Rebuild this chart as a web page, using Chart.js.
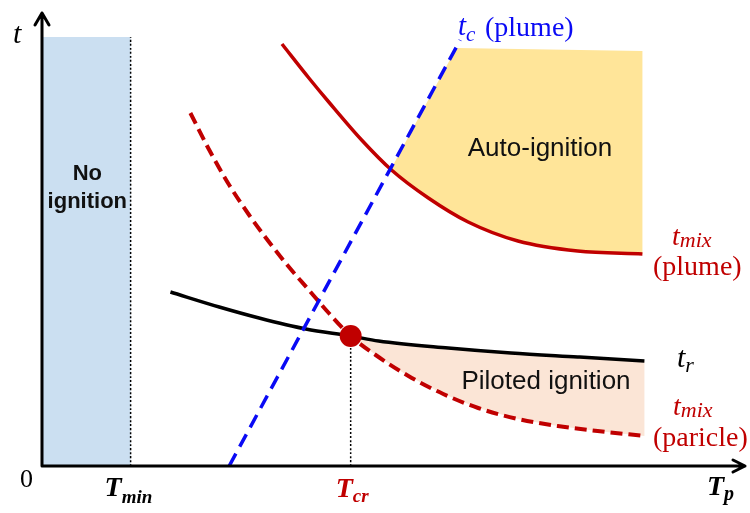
<!DOCTYPE html>
<html>
<head>
<meta charset="utf-8">
<script src="https://cdn.jsdelivr.net/npm/chart.js@4.4.1/dist/chart.umd.min.js"></script>
<style>
  html, body { margin: 0; padding: 0; background: #fff; }
  #wrap { width: 750px; height: 513px; }
</style>
</head>
<body>
<div id="wrap"><canvas id="chart" width="750" height="513"></canvas></div>
<script>
// schematic units: Tp across, t up (arbitrary)
const tmixPlumeTp = [241, 268, 288, 321, 351, 388, 428, 478, 538, 603];
const tmixPlumeT  = [422, 388, 364, 326, 296, 268, 244, 225, 215, 212];

const tmixPartTp = [149, 168, 188, 208, 228, 248, 268, 288, 310, 338, 368, 403, 438, 478, 518, 558, 605];
const tmixPartT  = [353, 316, 281, 251, 224, 199, 176, 153, 130, 109, 90, 72, 58, 47, 40, 35, 30];

const trTp = [129, 178, 218, 265, 310, 338, 408, 471, 538, 605];
const trT  = [174, 159, 148, 137, 130, 125, 118, 113, 109, 105];

const tcTp = [188, 420];
const tcT  = [0, 426];

const Tmin = 89;
const Tcr = 310;
const tcrPoint = 130;
const noIgnTop = 429;

// upper-left corners of the auto-ignition zone (on t_c), then top-right
const autoEdgeTp = [350, 416, 603];
const autoEdgeT  = [296, 418, 415];

const pts = (xs, ys) => xs.map((x, i) => ({ x: x, y: ys[i] }));

// auto-ignition polygon: along t_c and the top, then back along t_mix (plume)
const autoPoly = pts(autoEdgeTp, autoEdgeT).concat(
  pts(tmixPlumeTp, tmixPlumeT).filter(p => p.x >= 351).reverse()
);
// piloted polygon: along t_r, then back along t_mix (particle)
const pilotPoly = pts(trTp, trT).filter(p => p.x >= Tcr).concat(
  pts(tmixPartTp, tmixPartT).filter(p => p.x >= Tcr).reverse()
);
const noIgnPoly = pts([0, 0, Tmin, Tmin], [0, noIgnTop, noIgnTop, 0]);

const RED = '#C00000';
const BLUE = '#0A0AF5';

function serif(style, size) { return style + ' ' + size + 'px "Liberation Serif", serif'; }
function sans(style, size) { return style + ' ' + size + 'px "Liberation Sans", Arial, sans-serif'; }

// main text + subscript
function subText(ctx, main, sub, x, y, mainFont, subFont, color, dy) {
  ctx.fillStyle = color;
  ctx.font = mainFont;
  ctx.textAlign = 'left';
  ctx.textBaseline = 'alphabetic';
  ctx.fillText(main, x, y);
  const w = ctx.measureText(main).width;
  ctx.font = subFont;
  ctx.fillText(sub, x + w, y + dy);
}

const decorations = {
  id: 'decorations',
  afterDatasetsDraw(chart) {
    const ctx = chart.ctx;
    const xs = chart.scales.x, ys = chart.scales.y;
    const x0 = xs.getPixelForValue(0), y0 = ys.getPixelForValue(0);
    ctx.save();
    // axes with open arrow heads
    ctx.strokeStyle = '#000';
    ctx.lineWidth = 3;
    ctx.lineCap = 'round';
    ctx.lineJoin = 'round';
    ctx.beginPath();
    ctx.moveTo(x0, y0); ctx.lineTo(x0, 13);
    ctx.moveTo(x0 - 7, 25); ctx.lineTo(x0, 13); ctx.lineTo(x0 + 7, 25);
    ctx.moveTo(x0, y0); ctx.lineTo(745, y0);
    ctx.moveTo(733, y0 - 6); ctx.lineTo(745, y0); ctx.lineTo(733, y0 + 6);
    ctx.stroke();

    // region labels
    ctx.fillStyle = '#111';
    ctx.textAlign = 'center';
    ctx.font = sans('bold', 22);
    const midNo = xs.getPixelForValue(Tmin / 2) + 1;
    ctx.fillText('No', midNo, 180);
    ctx.fillText('ignition', midNo, 208);
    ctx.font = sans('', 26);
    ctx.fillText('Auto-ignition', 540, 156);
    ctx.fillText('Piloted ignition', 546, 389);

    // axis labels
    ctx.fillStyle = '#000';
    ctx.textAlign = 'left';
    ctx.font = serif('italic', 30);
    ctx.fillText('t', 13, 43);
    ctx.font = serif('', 26);
    ctx.fillText('0', 20, 487);
    const txMin = xs.getPixelForValue(Tmin);
    subText(ctx, 'T', 'min', txMin - 26, 496, serif('italic bold', 28), serif('italic bold', 19), '#000', 7);
    const txCr = xs.getPixelForValue(Tcr);
    subText(ctx, 'T', 'cr', txCr - 15, 497, serif('italic bold', 28), serif('italic bold', 19), RED, 5);
    subText(ctx, 'T', 'p', 707, 495, serif('italic bold', 28), serif('italic bold', 20), '#000', 5);

    // curve labels
    subText(ctx, 't', 'c', 458, 35, serif('italic', 29), serif('italic', 21), BLUE, 6);
    ctx.font = serif('', 28);
    ctx.fillText('(plume)', 485, 36);

    subText(ctx, 't', 'mix', 672, 245, serif('italic', 28), serif('italic', 22), RED, 2);
    ctx.fillStyle = RED;
    ctx.font = serif('', 28);
    ctx.fillText('(plume)', 653, 275);

    subText(ctx, 't', 'r', 677, 367, serif('italic', 30), serif('italic', 22), '#000', 5);

    subText(ctx, 't', 'mix', 673, 415, serif('italic', 28), serif('italic', 22), RED, 2);
    ctx.fillStyle = RED;
    ctx.font = serif('', 28);
    ctx.fillText('(paricle)', 653, 446);
    ctx.restore();
  }
};

const region = (data, color) => ({
  data: data, showLine: true, fill: 'shape', backgroundColor: color,
  borderWidth: 0, pointRadius: 0, tension: 0, order: 10
});
const curve = (xs, ys, color, width, dash, order) => ({
  data: pts(xs, ys), showLine: true, fill: false, borderColor: color,
  borderWidth: width, borderDash: dash, pointRadius: 0,
  cubicInterpolationMode: 'monotone', order: order
});

new Chart(document.getElementById('chart'), {
  type: 'scatter',
  data: {
    datasets: [
      region(noIgnPoly, '#CBDFF1'),
      region(autoPoly, '#FFE599'),
      region(pilotPoly, '#FBE5D6'),
      curve([Tmin, Tmin], [0, noIgnTop], '#000', 1.5, [2, 2], 5),
      curve([Tcr, Tcr], [0, tcrPoint], '#000', 1.5, [2, 2], 5),
      curve(trTp, trT, '#000', 3.5, [], 3),
      curve(tmixPlumeTp, tmixPlumeT, RED, 3.5, [], 3),
      curve(tmixPartTp, tmixPartT, RED, 4, [12, 6], 2),
      curve(tcTp, tcT, BLUE, 3.5, [14, 8], 1),
      {
        data: [{ x: Tcr, y: tcrPoint }], pointRadius: 11, pointBackgroundColor: RED,
        pointBorderWidth: 0, order: 0
      }
    ]
  },
  options: {
    responsive: false,
    animation: false,
    layout: { padding: { left: 42, top: 14, right: 8, bottom: 47 } },
    plugins: { legend: { display: false }, tooltip: { enabled: false } },
    scales: {
      x: { type: 'linear', min: 0, max: 700, display: false },
      y: { type: 'linear', min: 0, max: 452, display: false }
    }
  },
  plugins: [decorations]
});
</script>
</body>
</html>
